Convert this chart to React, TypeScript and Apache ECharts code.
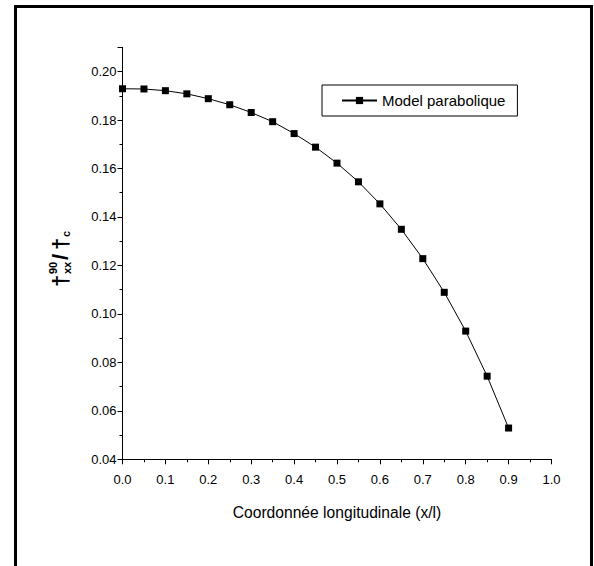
import React, { useEffect, useRef } from "react";
import * as echarts from "echarts";

const xValues = [0, 0.05, 0.1, 0.15, 0.2, 0.25, 0.3, 0.35, 0.4, 0.45, 0.5, 0.55, 0.6, 0.65, 0.7, 0.75, 0.8, 0.85, 0.9];
const yValues = [0.1929, 0.1928, 0.1921, 0.1908, 0.1888, 0.1863, 0.1831, 0.1793, 0.1744, 0.1688, 0.1622, 0.1545, 0.1454, 0.1349, 0.1228, 0.1089, 0.0929, 0.0743, 0.0529];
const seriesName = "Model parabolique";
const xAxisTitle = "Coordonnée longitudinale (x/l)";

const FONT = "Arial, 'Liberation Sans', sans-serif";

export default function App() {
  const ref = useRef<HTMLDivElement>(null);
  useEffect(() => {
    if (!ref.current) return;
    const chart = echarts.init(ref.current, null, { renderer: "svg" });
    const data = xValues.map((x, i) => [x, yValues[i]]);
    const sym = (text: string, x: number, y: number, size: number) => ({
      type: "text",
      x,
      y,
      style: { text, fontFamily: FONT, fontSize: size, fontWeight: "bold", fill: "#000", verticalAlign: "middle" },
    });
    chart.setOption({
      animation: false,
      backgroundColor: "#fff",
      textStyle: { fontFamily: FONT },
      grid: { left: 122.5, right: 42.5, top: 47.3, bottom: 106.7, containLabel: false },
      legend: {
        left: 322,
        top: 85,
        orient: "horizontal",
        padding: [8, 12, 8, 19],
        itemWidth: 35,
        itemHeight: 9,
        borderColor: "#000",
        borderWidth: 1,
        textStyle: { fontFamily: FONT, fontSize: 15, color: "#000" },
        data: [seriesName],
      },
      xAxis: {
        type: "value",
        min: 0,
        max: 1,
        interval: 0.1,
        axisLine: { lineStyle: { color: "#000", width: 1 } },
        axisTick: { inside: false, length: 5, lineStyle: { color: "#000" } },
        minorTick: { show: true, splitNumber: 2, length: 3, lineStyle: { color: "#000" } },
        splitLine: { show: false },
        axisLabel: {
          color: "#000",
          fontFamily: FONT,
          fontSize: 13,
          margin: 14,
          formatter: (v: number) => v.toFixed(1),
        },
      },
      yAxis: {
        type: "value",
        min: 0.04,
        max: 0.21,
        interval: 0.02,
        axisLine: { show: true, lineStyle: { color: "#000", width: 1 } },
        axisTick: { show: true, inside: false, length: 5, lineStyle: { color: "#000" } },
        minorTick: { show: true, splitNumber: 2, length: 3, lineStyle: { color: "#000" } },
        splitLine: { show: false },
        axisLabel: {
          color: "#000",
          fontFamily: FONT,
          fontSize: 13,
          margin: 6,
          showMaxLabel: false,
          formatter: (v: number) => v.toFixed(2),
        },
      },
      series: [
        {
          name: seriesName,
          type: "line",
          data,
          symbol: "rect",
          symbolSize: 7,
          lineStyle: { color: "#000", width: 1 },
          itemStyle: { color: "#000" },
        },
      ],
      graphic: [
        {
          type: "rect",
          shape: { x: 15.5, y: 6.5, width: 576, height: 620 },
          style: { fill: "none", stroke: "#000", lineWidth: 3 },
          silent: true,
        },
        {
          type: "text",
          x: 337,
          y: 512,
          scaleX: 0.92,
          style: {
            text: xAxisTitle,
            fontFamily: FONT,
            fontSize: 17,
            fill: "#000",
            align: "center",
            verticalAlign: "middle",
          },
        },
        {
          type: "group",
          x: 60,
          y: 287,
          rotation: Math.PI / 2,
          children: [
            sym("†", 0, 0, 22),
            sym("xx", 13, 7, 11),
            sym("90", 13, -7, 11),
            sym("/", 27, 0, 22),
            sym("†", 37, 0, 22),
            sym("c", 50, 6, 11),
          ],
        },
      ],
    });
    return () => chart.dispose();
  }, []);
  return (
    <div
      ref={ref}
      style={{ position: "fixed", left: 0, top: 0, width: 594, height: 566 }}
    />
  );
}
